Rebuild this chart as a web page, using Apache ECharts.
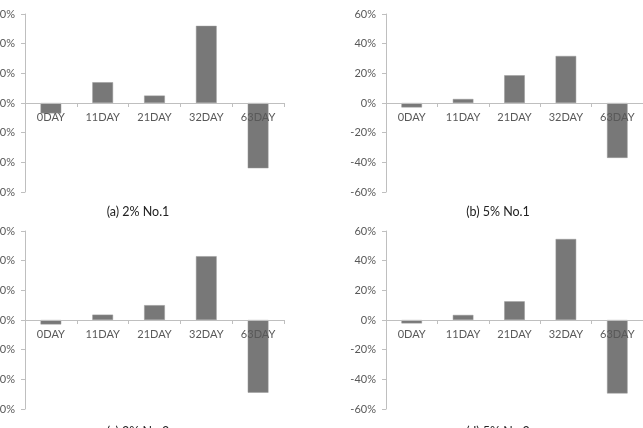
<!DOCTYPE html>
<html>
<head>
<meta charset="utf-8">
<script src="https://cdn.jsdelivr.net/npm/echarts@6/dist/echarts.min.js"></script>
<style>
html, body { margin: 0; padding: 0; background: #fff; }
#chart { width: 643px; height: 428px; }
</style>
</head>
<body>
<div id="chart"></div>
<script>
// categories and values (percent)
var days = ['0DAY', '11DAY', '21DAY', '32DAY', '63DAY']
var a2No1 = [-7, 14, 5, 52, -44]
var b5No1 = [-3, 2.7, 18.7, 31.7, -37]
var c2No2 = [-3, 3.6, 10, 43, -49]
var d5No2 = [-2.3, 3.4, 12.6, 54.6, -49.5]
var captions = ['(a) 2% No.1', '(b) 5% No.1', '(c) 2% No.2', '(d) 5% No.2']
var yTicks = { min: -60, max: 60, interval: 20 }

var font = 'Lato, "Open Sans", sans-serif'
var textColor = '#595959'
var lineColor = '#bfbfbf'

// left panels are cropped in the original, so their labels run off the canvas
var grids = [
  { left: 25, width: 259, top: 14, height: 178, outerBoundsMode: 'none' },
  { left: 386, width: 257, top: 14, height: 178, outerBoundsMode: 'none' },
  { left: 25, width: 259, top: 231, height: 178, outerBoundsMode: 'none' },
  { left: 386, width: 257, top: 231, height: 178, outerBoundsMode: 'none' }
]
var captionPos = [
  { x: 138, y: 212 },
  { x: 498, y: 212 },
  { x: 138, y: 432 },
  { x: 498, y: 432 }
]
var allData = [a2No1, b5No1, c2No2, d5No2]

var xAxes = [], yAxes = [], series = [], graphics = []
grids.forEach(function(g, i) {
  xAxes.push({
    type: 'category',
    gridIndex: i,
    data: days,
    z: 5,
    position: 'bottom',
    offset: -g.height / 2, // put the whole axis (line + labels) on the 0% line
    axisLine: { onZero: false, lineStyle: { color: lineColor, width: 1 } },
    axisTick: { show: true, length: 4, inside: false, lineStyle: { color: lineColor } },
    axisLabel: { color: textColor, fontSize: 11, fontFamily: font, margin: 9, interval: 0 },
    splitLine: { show: false }
  })
  yAxes.push({
    type: 'value',
    gridIndex: i,
    min: yTicks.min,
    max: yTicks.max,
    interval: yTicks.interval,
    axisLine: { show: true, lineStyle: { color: lineColor, width: 1 } },
    axisTick: { show: true, length: 4, lineStyle: { color: lineColor } },
    axisLabel: {
      color: textColor,
      fontSize: 11,
      fontFamily: font,
      margin: 10,
      formatter: '{value}%'
    },
    splitLine: { show: false }
  })
  series.push({
    type: 'bar',
    xAxisIndex: i,
    yAxisIndex: i,
    barWidth: '40%',
    itemStyle: { color: '#787878', borderColor: '#9a9a9a', borderWidth: 0.5 },
    data: allData[i]
  })
  graphics.push({
    type: 'text',
    x: captionPos[i].x,
    y: captionPos[i].y,
    style: {
      text: captions[i],
      fill: '#222',
      font: '12.5px ' + font,
      textAlign: 'center',
      textVerticalAlign: 'middle'
    }
  })
})

var chart = echarts.init(document.getElementById('chart'))
chart.setOption({
  animation: false,
  backgroundColor: '#fff',
  grid: grids,
  xAxis: xAxes,
  yAxis: yAxes,
  series: series,
  graphic: graphics
})
</script>
</body>
</html>
